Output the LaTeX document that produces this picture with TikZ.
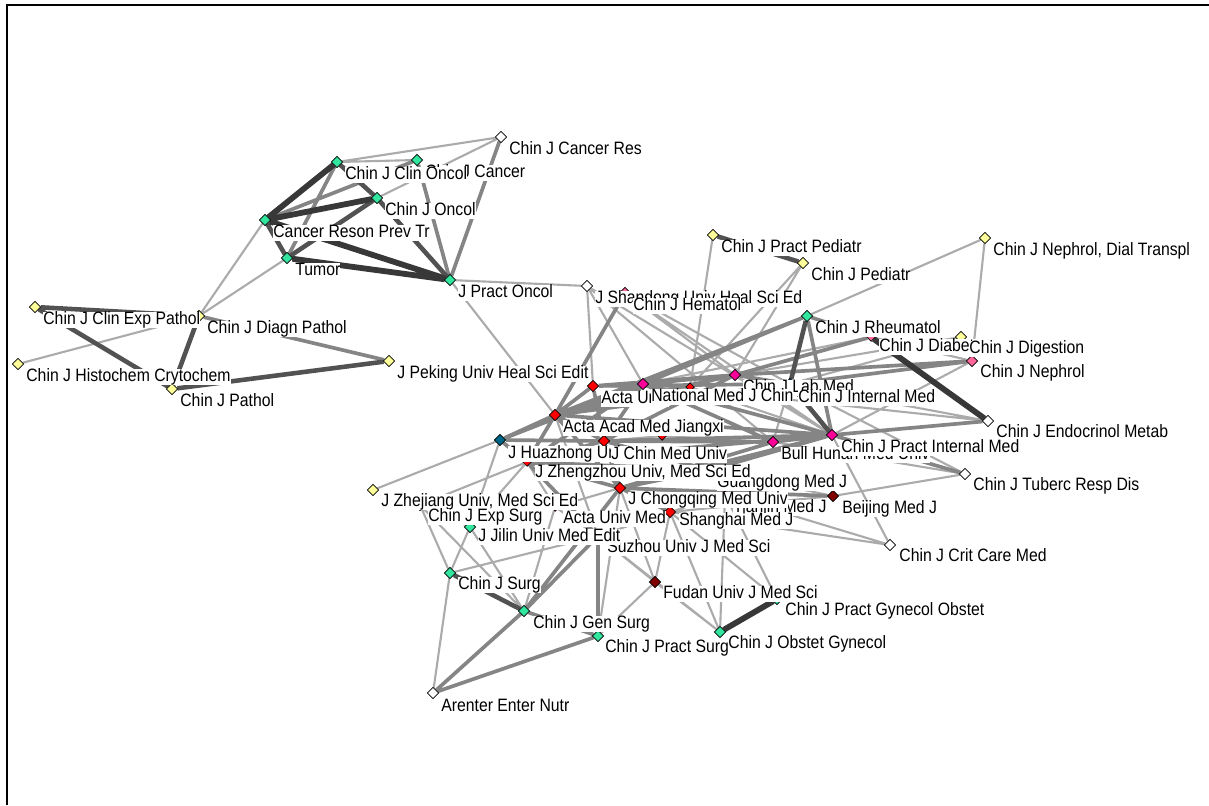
\documentclass[tikz,border=0pt]{standalone}
\usepackage{fontspec}
\setmainfont{Liberation Sans}[FakeStretch=0.88]
\usetikzlibrary{shapes.geometric,backgrounds}
\definecolor{nodeMint}{HTML}{33E6A0}
\definecolor{nodeYel}{HTML}{FFFF99}
\definecolor{nodeRed}{HTML}{FF0000}
\definecolor{nodeMaroon}{HTML}{800000}
\definecolor{nodeMag}{HTML}{FF0099}
\definecolor{nodePink}{HTML}{FF6699}
\definecolor{nodeTeal}{HTML}{006688}

\begin{document}
\begin{tikzpicture}[
  x=0.02cm,y=-0.02cm,
  vx/.style={shape=diamond,draw=black,line width=0.4pt,inner sep=0pt,minimum size=6.5pt},
  mintv/.style={vx,fill=nodeMint},
  yelv/.style={vx,fill=nodeYel},
  redv/.style={vx,fill=nodeRed},
  darkv/.style={vx,fill=nodeMaroon},
  magv/.style={vx,fill=nodeMag},
  pinkv/.style={vx,fill=nodePink},
  tealv/.style={vx,fill=nodeTeal},
  whitev/.style={vx,fill=white},
  lbl/.style={fill=white,inner sep=0pt,anchor=west,text height=7.2pt,text depth=2pt,font=\fontsize{10.2}{11}\selectfont},
  lnk/.style={draw=black!33,line width=1.2pt},
  lnkm/.style={draw=black!48,line width=2.1pt},
  lnkd/.style={draw=black!68,line width=2.6pt},
  lnkh/.style={draw=black!78,line width=3.3pt}
]
\useasboundingbox (0,0) rectangle (1209,805);
\coordinate (frameBL) at (7,805);
\coordinate (frameTL) at (7,5);
\coordinate (frameTR) at (1209,5);
\draw[line width=1.2pt] (frameBL) -- (frameTL) -- (frameTR);

% oncology group
\node[mintv] (ca) at (417,160) {};
\node[mintv] (co) at (337,162) {};
\node[mintv] (on) at (377,198) {};
\node[mintv] (cr) at (265,220) {};
\node[mintv] (tu) at (287,258) {};
\node[mintv] (po) at (450,280) {};
\node[whitev] (cres) at (501,137) {};
% pathology group
\node[yelv] (cep) at (35,307) {};
\node[yelv] (dp) at (199,316) {};
\node[yelv] (hc) at (18,364) {};
\node[yelv] (pa) at (172,389) {};
\node[yelv] (pk) at (389,361) {};
% upper middle and right
\node[whitev] (sd) at (587,286) {};
\node[pinkv] (hm) at (625,293) {};
\node[yelv] (ppd) at (713,235) {};
\node[yelv] (pd) at (803,263) {};
\node[yelv] (ndt) at (985,238) {};
\node[mintv] (rh) at (807,316) {};
\node[pinkv,minimum size=5pt] (db) at (871,337) {};
\node[yelv] (dg) at (961,337) {};
\node[pinkv] (np) at (972,361) {};
\node[whitev] (en) at (988,421) {};
% core
\node[redv] (au) at (593,386) {};
\node[magv] (nm) at (643,384) {};
\node[redv,minimum size=5pt] (r3) at (690,387) {};
\node[magv] (lm) at (735,375) {};
\node[tealv] (im) at (790,384) {};
\node[redv] (aj) at (555,415) {};
\node[tealv] (hz) at (500,440) {};
\node[redv] (cm) at (604,441) {};
\node[redv,minimum size=5pt] (r4) at (662,436) {};
\node[magv] (bh) at (773,442) {};
\node[magv] (pim) at (832,435) {};
\node[redv,minimum size=5pt] (zz) at (527,462) {};
\node[redv,minimum size=5pt] (gd) at (709,470) {};
\node[redv] (cq) at (620,488) {};
\node[redv,minimum size=5pt] (tj) at (725,495) {};
\node[redv,minimum size=5pt] (aum) at (555,507) {};
\node[redv] (sh) at (670,512) {};
\node[redv] (sz) at (598,536) {};
\node[darkv] (bj) at (833,496) {};
\node[whitev] (tb) at (965,474) {};
\node[whitev] (cc) at (890,545) {};
\node[darkv] (fd) at (655,582) {};
\node[mintv] (pg) at (777,599) {};
\node[mintv] (og) at (720,632) {};
% surgery group
\node[yelv] (zj) at (373,490) {};
\node[whitev] (es) at (420,505) {};
\node[mintv] (jl) at (470,527) {};
\node[mintv] (su) at (450,573) {};
\node[mintv] (gs) at (524,611) {};
\node[mintv] (ps) at (598,636) {};
\node[whitev] (an) at (433,693) {};

\begin{scope}[on background layer]
\draw[lnk] (cres) -- (co) (co) -- (ca) (cres) -- (on) (dp) -- (cr) (dp) -- (tu) (hc) -- (dp)
  (po) -- (sd) (po) -- (aj) (sd) -- (au) (sd) -- (nm) (sd) -- (pim) (hm) -- (pim) (hm) -- (im)
  (ppd) -- (r3) (pd) -- (lm) (pd) -- (r3) (ndt) -- (rh) (ndt) -- (np) (dg) -- (im) (np) -- (pim)
  (db) -- (nm) (en) -- (nm) (r3) -- (pim) (au) -- (r3) (aj) -- (sz) (sd) -- (bh)
  (r4) -- (cm) (r4) -- (bh) (lm) -- (pim) (im) -- (bh) (zz) -- (hz) (zz) -- (aum)
  (aum) -- (sz) (aum) -- (cq) (sh) -- (tj) (sh) -- (sz) (cq) -- (tj) (bj) -- (gd) (tb) -- (bj)
  (tb) -- (bh) (cc) -- (tj) (cc) -- (sh) (cc) -- (pim) (fd) -- (sz) (fd) -- (cq) (fd) -- (sh)
  (fd) -- (og) (og) -- (sh) (og) -- (sz) (og) -- (tj) (pg) -- (tj) (pg) -- (sh) (su) -- (an)
  (su) -- (es) (su) -- (jl) (su) -- (sz) (es) -- (gs) (jl) -- (gs) (jl) -- (zz) (zj) -- (hz)
  (es) -- (jl) (ps) -- (cq) (gs) -- (aum) (np) -- (db) (hm) -- (lm) (en) -- (im)
  (dg) -- (lm) (es) -- (zz) (jl) -- (hz) (ps) -- (fd) (bj) -- (sh) (tb) -- (im);
\draw[lnkm] (ca) -- (cr) (co) -- (tu) (ca) -- (po) (cres) -- (po) (dp) -- (pk) (hm) -- (aj)
  (nm) -- (rh) (aj) -- (rh) (nm) -- (au) (au) -- (lm) (aj) -- (au) (nm) -- (lm) (aj) -- (pim)
  (nm) -- (pim) (cm) -- (pim) (zz) -- (cq) (cq) -- (gd) (cm) -- (bh) (bh) -- (pim) (pim) -- (tb)
  (en) -- (pim) (np) -- (im) (np) -- (lm) (rh) -- (pim) (rh) -- (db) (hz) -- (aj) (hz) -- (nm)
  (gs) -- (an) (ps) -- (an) (gs) -- (sz) (ps) -- (sz) (gs) -- (cq) (gs) -- (ps) (cq) -- (bj)
  (db) -- (lm) (aj) -- (zz) (aj) -- (cm) (cq) -- (sh) (zz) -- (sz) (cm) -- (cq) (lm) -- (im)
  (au) -- (cm) (aj) -- (nm) (aj) -- (lm) (aj) -- (im) (cm) -- (nm) (cm) -- (lm) (zz) -- (nm)
  (hz) -- (cm) (zz) -- (pim) (cq) -- (pim) (cq) -- (bh) (gd) -- (pim) (aj) -- (cq) (au) -- (im)
  (nm) -- (bh) (zz) -- (gd) (cm) -- (gd) (hz) -- (zz) (zz) -- (cm);
\draw[lnkd] (co) -- (on) (cr) -- (tu) (on) -- (po) (cep) -- (pa) (cep) -- (dp) (dp) -- (pa)
  (pa) -- (pk) (ppd) -- (pd) (rh) -- (im) (im) -- (pim) (su) -- (gs) (on) -- (tu);
\draw[lnkh] (cr) -- (on) (co) -- (cr) (og) -- (pg) (db) -- (en) (po) -- (tu) (po) -- (cr);
\end{scope}

% labels, later ones on top
\node[lbl] (caT) at (425,173) {Chin J Cancer};
\node[lbl] (coT) at (345,175) {Chin J Clin Oncol};
\node[lbl] (onT) at (385,211) {Chin J Oncol};
\node[lbl] (crT) at (273,233) {Cancer Reson Prev Tr};
\node[lbl] (tuT) at (295,271) {Tumor};
\node[lbl] (poT) at (458,293) {J Pract Oncol};
\node[lbl] (cresT) at (509,150) {Chin J Cancer Res};
\node[lbl] (cepT) at (43,320) {Chin J Clin Exp Pathol};
\node[lbl] (dpT) at (207,329) {Chin J Diagn Pathol};
\node[lbl] (hcT) at (26,377) {Chin J Histochem Crytochem};
\node[lbl] (paT) at (180,402) {Chin J Pathol};
\node[lbl] (pkT) at (397,374) {J Peking Univ Heal Sci Edit};
\node[lbl] (sdT) at (595,299) {J Shandong Univ Heal Sci Ed};
\node[lbl] (hmT) at (633,306) {Chin J Hematol};
\node[lbl] (ppdT) at (721,248) {Chin J Pract Pediatr};
\node[lbl] (pdT) at (811,276) {Chin J Pediatr};
\node[lbl] (ndtT) at (993,251) {Chin J Nephrol, Dial Transpl};
\node[lbl] (rhT) at (815,329) {Chin J Rheumatol};
\node[lbl] (dbT) at (879,347) {Chin J Diabetes};
\node[lbl] (dgT) at (969,349) {Chin J Digestion};
\node[lbl] (npT) at (980,373) {Chin J Nephrol};
\node[lbl] (enT) at (996,433) {Chin J Endocrinol Metab};
\node[lbl] (auT) at (601,399) {Acta Univ};
\node[lbl] (lmT) at (743,388) {Chin J Lab Med};
\node[lbl] (nmT) at (651,397) {National Med J Chin};
\node[lbl] (imT) at (798,398) {Chin J Internal Med};
\node[lbl] (ajT) at (563,428) {Acta Acad Med Jiangxi};
\node[lbl] (hzT) at (508,454) {J Huazhong Univ};
\node[lbl] (cmT) at (611,455) {J Chin Med Univ};
\node[lbl] (bhT) at (781,455) {Bull Hunan Med Univ};
\node[lbl] (pimT) at (841,448) {Chin J Pract Internal Med};
\node[lbl] (tjT) at (733,508) {Tianjin Med J};
\node[lbl] (gdT) at (717,483) {Guangdong Med J};
\node[lbl] (zzT) at (535,473) {J Zhengzhou Univ, Med Sci Ed};
\node[lbl] (aumT) at (563,519) {Acta Univ Med};
\node[lbl] (shT) at (679,521) {Shanghai Med J};
\node[lbl] (cqT) at (628,500) {J Chongqing Med Univ};
\node[lbl] (szT) at (607,548) {Suzhou Univ J Med Sci};
\node[lbl] (bjT) at (842,509) {Beijing Med J};
\node[lbl] (tbT) at (973,486) {Chin J Tuberc Resp Dis};
\node[lbl] (ccT) at (899,557) {Chin J Crit Care Med};
\node[lbl] (fdT) at (663,594) {Fudan Univ J Med Sci};
\node[lbl] (pgT) at (785,611) {Chin J Pract Gynecol Obstet};
\node[lbl] (ogT) at (728,644) {Chin J Obstet Gynecol};
\node[lbl] (zjT) at (381,502) {J Zhejiang Univ, Med Sci Ed};
\node[lbl] (esT) at (428,517) {Chin J Exp Surg};
\node[lbl] (jlT) at (478,537) {J Jilin Univ Med Edit};
\node[lbl] (suT) at (458,585) {Chin J Surg};
\node[lbl] (gsT) at (533,624) {Chin J Gen Surg};
\node[lbl] (psT) at (605,648) {Chin J Pract Surg};
\node[lbl] (anT) at (441,707) {Arenter Enter Nutr};
\end{tikzpicture}
\end{document}
